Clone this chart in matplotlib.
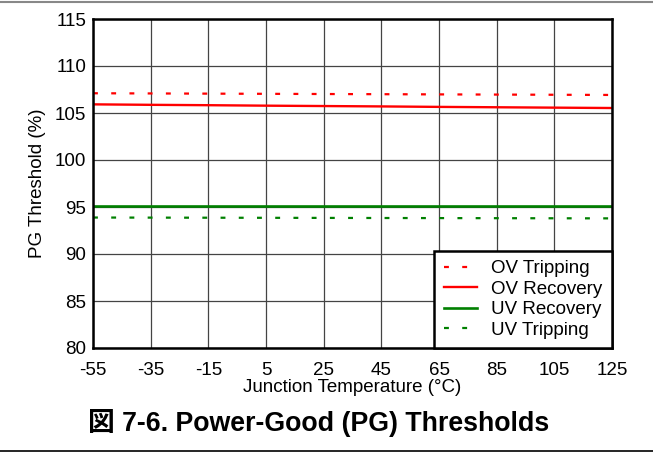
import matplotlib
matplotlib.use("Agg")
import matplotlib.pyplot as plt
from matplotlib.lines import Line2D

plt.rcParams['font.family'] = ['Liberation Sans', 'Noto Sans CJK JP', 'DejaVu Sans']
plt.rcParams['axes.unicode_minus'] = False

# data
temp = [-55, -35, -15, 5, 25, 45, 65, 85, 105, 125]
ov_trip = [107.1, 107.08, 107.06, 107.04, 107.02, 107.0, 106.98, 106.96, 106.94, 106.92]
ov_rec = [105.92, 105.87, 105.83, 105.78, 105.74, 105.7, 105.65, 105.61, 105.57, 105.53]
uv_rec = [95.12, 95.12, 95.12, 95.12, 95.12, 95.12, 95.12, 95.12, 95.12, 95.12]
uv_trip = [93.88, 93.87, 93.86, 93.85, 93.84, 93.83, 93.82, 93.81, 93.8, 93.79]

xticks = [-55, -35, -15, 5, 25, 45, 65, 85, 105, 125]
yticks = [80, 85, 90, 95, 100, 105, 110, 115]

fig = plt.figure(figsize=(6.53, 4.55), dpi=100)
ax = fig.add_axes([93/653, 1 - 348/455, (612-93)/653, (348-19)/455])

dot = (0, (2.2, 6))
ax.plot(temp, ov_trip, color='#ff0000', lw=1.6, ls=dot, label='OV Tripping')
ax.plot(temp, ov_rec, color='#ff0000', lw=1.7, label='OV Recovery')
ax.plot(temp, uv_rec, color='#008000', lw=1.9, label='UV Recovery')
ax.plot(temp, uv_trip, color='#008000', lw=1.6, ls=dot, label='UV Tripping')

ax.set_xlim(-55, 125)
ax.set_ylim(80, 115)
ax.set_xticks(xticks)
ax.set_yticks(yticks)
ax.tick_params(axis='x', length=0, labelsize=13.5, pad=10)
ax.tick_params(axis='y', length=0, labelsize=13.5, pad=5)
ax.grid(True, color='#444444', lw=0.9)
ax.set_axisbelow(True)
for s in ax.spines.values():
    s.set_linewidth(1.8)
    s.set_color('black')

ax.set_xlabel('Junction Temperature (°C)', fontsize=13.5, labelpad=0)
ax.set_ylabel('PG Threshold (%)', fontsize=13.5, labelpad=6)

leg = ax.legend(loc='lower right', fontsize=13.5, frameon=True, fancybox=False,
                borderaxespad=0, handlelength=1.8, handletextpad=0.75,
                labelspacing=0.18, borderpad=0.5)
leg.get_frame().set_edgecolor('black')
leg.get_frame().set_linewidth(1.8)
leg.get_frame().set_alpha(1)

fig.text(319/653, 1 - 423/455, '図 7-6. Power-Good (PG) Thresholds',
         ha='center', va='center', fontsize=19.3, fontweight='bold')

fig.add_artist(Line2D([0, 1], [1 - 1.5/455, 1 - 1.5/455], color='#888888', lw=1.5))
fig.add_artist(Line2D([0, 1], [1 - 451/455, 1 - 451/455], color='black', lw=1.2))

fig.savefig('out.png', dpi=100)
